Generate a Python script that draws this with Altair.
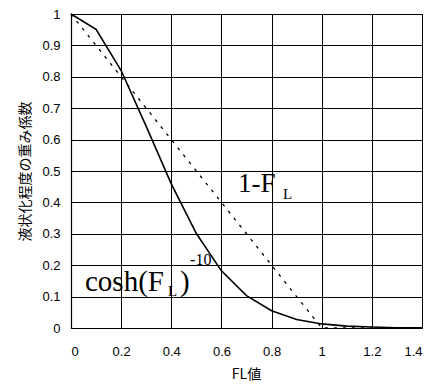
import altair as alt
import pandas as pd

# cosh(FL)^-10 curve
fl_values = [0.0, 0.1, 0.2, 0.3, 0.4, 0.5, 0.6, 0.7, 0.8, 0.9, 1.0, 1.1, 1.2, 1.3, 1.4]
cosh_weight = [1.0, 0.951, 0.820, 0.642, 0.459, 0.301, 0.182, 0.103, 0.055, 0.027, 0.013, 0.006, 0.003, 0.001, 0.0005]

# 1-FL line (clipped at 0)
lin_fl = [0.0, 1.0, 1.4]
lin_weight = [1.0, 0.0, 0.0]

# annotation pieces
ann_text = ["1-F", "L", "cosh(F", "L", ")", "-10"]
ann_x = [0.666, 0.846, 0.0558, 0.387, 0.435, 0.475]
ann_y = [0.433, 0.411, 0.118, 0.102, 0.118, 0.200]
ann_size = [27, 15, 29, 15, 29, 16]

x_ticks = [0, 0.2, 0.4, 0.6, 0.8, 1.0, 1.2, 1.4]
y_ticks = [0, 0.1, 0.2, 0.3, 0.4, 0.5, 0.6, 0.7, 0.8, 0.9, 1.0]

df_cosh = pd.DataFrame({"FL": fl_values, "w": cosh_weight})
df_lin = pd.DataFrame({"FL": lin_fl, "w": lin_weight})
df_ann = pd.DataFrame({"t": ann_text, "x": ann_x, "y": ann_y, "s": ann_size})

xscale = alt.Scale(domain=[0, 1.4], nice=False)
yscale = alt.Scale(domain=[0, 1], nice=False)

xaxis = alt.Axis(values=x_ticks, format="~g", title="FL値", grid=True, labelOverlap=False,
                 labelPadding=17, titleY=46, titleBaseline="middle", titleX=175)
yaxis = alt.Axis(values=y_ticks, format="~g", title="液状化程度の重み係数", grid=True,
                 labelOverlap=False, labelPadding=11, titleX=-46, titleY=157,
                 titleBaseline="middle", titleAlign="center", titleAngle=-90)

solid = alt.Chart(df_cosh).mark_line(color="black", strokeWidth=1.6).encode(
    x=alt.X("FL:Q", scale=xscale, axis=xaxis),
    y=alt.Y("w:Q", scale=yscale, axis=yaxis),
)

dotted = alt.Chart(df_lin).mark_line(color="black", strokeWidth=1.3, strokeDash=[3, 6]).encode(
    x=alt.X("FL:Q", scale=xscale, axis=xaxis),
    y=alt.Y("w:Q", scale=yscale, axis=yaxis),
)

text = alt.Chart(df_ann).mark_text(align="left", baseline="alphabetic",
                                   font="Liberation Serif", color="black").encode(
    x=alt.X("x:Q", scale=xscale, axis=xaxis),
    y=alt.Y("y:Q", scale=yscale, axis=yaxis),
    text="t:N",
    size=alt.Size("s:Q", scale=None, legend=None),
)

chart = alt.layer(solid, dotted, text).properties(
    width=351, height=314,
    autosize=alt.AutoSizeParams(type="none"),
    padding={"left": 63, "top": 6, "right": 15, "bottom": 53},
).configure_view(stroke="black", strokeWidth=1).configure_axis(
    gridColor="black", gridOpacity=1, gridWidth=1,
    domainColor="black", domainWidth=1.2,
    ticks=False,
    labelFont="Liberation Sans", labelFontSize=13, labelColor="black",
    titleFont="Noto Sans CJK JP", titleFontSize=14, titleFontWeight="normal", titleColor="black",
)

chart.save("out.html", embed_options={"renderer": "svg", "actions": False})
